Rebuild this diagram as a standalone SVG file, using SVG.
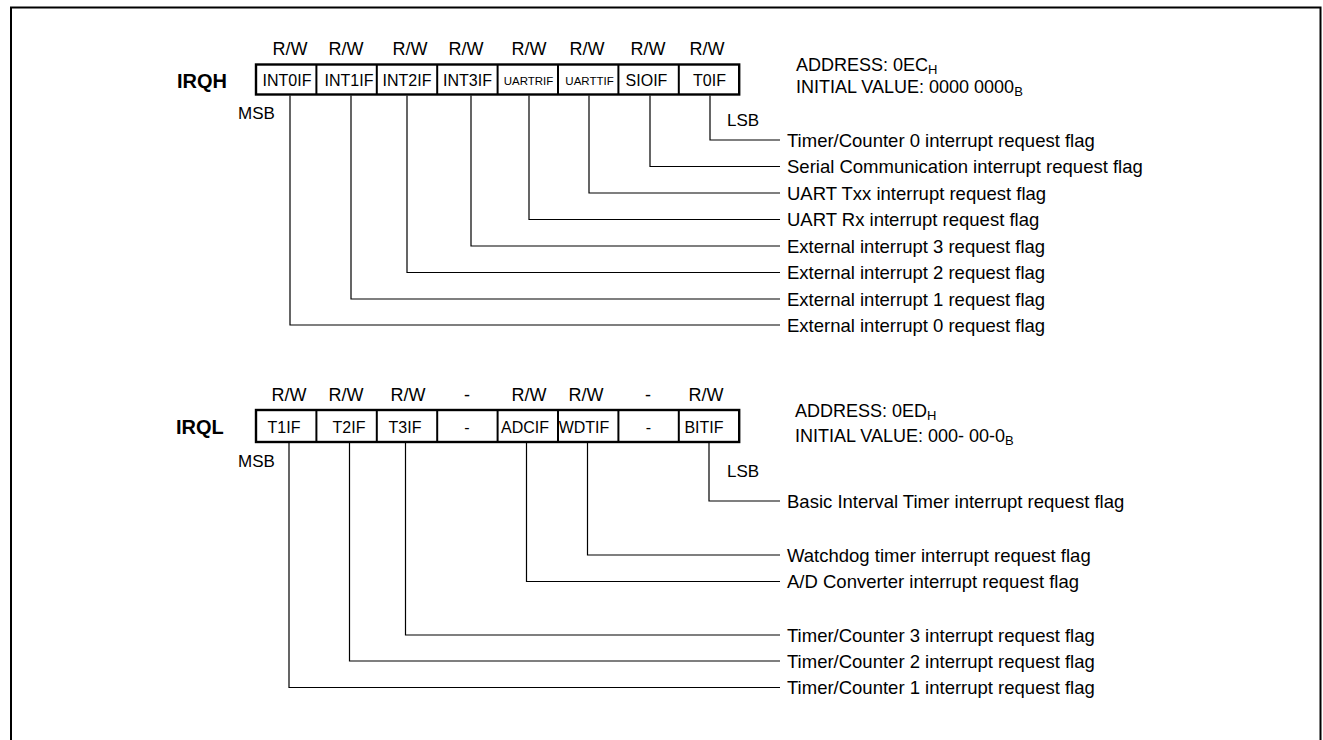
<svg xmlns="http://www.w3.org/2000/svg" width="1323" height="740" viewBox="0 0 1323 740">
<style>
text{font-family:"Liberation Sans",Arial,sans-serif;fill:#000}
.rw{font-size:18px;text-anchor:middle}
.cell{font-size:16px;text-anchor:middle}
.small{font-size:11.5px;text-anchor:middle}
.reg{font-size:20px;font-weight:bold}
.ml{font-size:17px}
.desc{font-size:18.5px}
.addr{font-size:18px}
.sub{font-size:13px}
.box{fill:#fff;stroke:#000;stroke-width:2.4}
.div{stroke:#000;stroke-width:2}
.lead{fill:none;stroke:#000;stroke-width:1.2}
</style>
<rect x="11" y="7.5" width="1309.5" height="800" fill="none" stroke="#000" stroke-width="2"/>

<g id="irqh">
<text class="reg" x="177" y="88">IRQH</text>
<g id="irqh-access">
<text class="rw" x="290" y="55">R/W</text>
<text class="rw" x="346" y="55">R/W</text>
<text class="rw" x="410" y="55">R/W</text>
<text class="rw" x="466" y="55">R/W</text>
<text class="rw" x="529" y="55">R/W</text>
<text class="rw" x="587" y="55">R/W</text>
<text class="rw" x="648" y="55">R/W</text>
<text class="rw" x="707" y="55">R/W</text>
</g>
<rect class="box" x="256" y="64.5" width="483.2" height="30"/>
<line class="div" x1="316.4" y1="64.5" x2="316.4" y2="94.5"/>
<line class="div" x1="376.8" y1="64.5" x2="376.8" y2="94.5"/>
<line class="div" x1="437.2" y1="64.5" x2="437.2" y2="94.5"/>
<line class="div" x1="497.6" y1="64.5" x2="497.6" y2="94.5"/>
<line class="div" x1="558" y1="64.5" x2="558" y2="94.5"/>
<line class="div" x1="618.4" y1="64.5" x2="618.4" y2="94.5"/>
<line class="div" x1="678.8" y1="64.5" x2="678.8" y2="94.5"/>
<text class="cell" x="287" y="86">INT0IF</text>
<text class="cell" x="349" y="86">INT1IF</text>
<text class="cell" x="407" y="86">INT2IF</text>
<text class="cell" x="467.5" y="86">INT3IF</text>
<text class="small" x="528.5" y="85">UARTRIF</text>
<text class="small" x="589.5" y="85">UARTTIF</text>
<text class="cell" x="646.5" y="86">SIOIF</text>
<text class="cell" x="709.5" y="86">T0IF</text>
<text class="ml" x="238" y="119">MSB</text>
<text class="ml" x="727" y="126">LSB</text>
<text class="addr" x="796" y="71">ADDRESS: 0EC<tspan class="sub" dy="3">H</tspan></text>
<text class="addr" x="796" y="93">INITIAL VALUE: 0000 0000<tspan class="sub" dy="3">B</tspan></text>
</g>

<g id="irqh-desc">
<text class="desc" x="787" y="146.5">Timer/Counter 0 interrupt request flag</text>
<text class="desc" x="787" y="173">Serial Communication interrupt request flag</text>
<text class="desc" x="787" y="199.5">UART Txx interrupt request flag</text>
<text class="desc" x="787" y="226">UART Rx interrupt request flag</text>
<text class="desc" x="787" y="252.5">External interrupt 3 request flag</text>
<text class="desc" x="787" y="279">External interrupt 2 request flag</text>
<text class="desc" x="787" y="305.5">External interrupt 1 request flag</text>
<text class="desc" x="787" y="331.5">External interrupt 0 request flag</text>
</g>

<g id="irql">
<text class="reg" x="176" y="434">IRQL</text>
<g id="irql-access">
<text class="rw" x="289" y="401">R/W</text>
<text class="rw" x="346" y="401">R/W</text>
<text class="rw" x="408" y="401">R/W</text>
<text class="rw" x="467" y="401">-</text>
<text class="rw" x="529" y="401">R/W</text>
<text class="rw" x="586" y="401">R/W</text>
<text class="rw" x="648" y="401">-</text>
<text class="rw" x="706" y="401">R/W</text>
</g>
<rect class="box" x="256" y="410" width="483.2" height="32"/>
<line class="div" x1="316.4" y1="410" x2="316.4" y2="442"/>
<line class="div" x1="376.8" y1="410" x2="376.8" y2="442"/>
<line class="div" x1="437.2" y1="410" x2="437.2" y2="442"/>
<line class="div" x1="497.6" y1="410" x2="497.6" y2="442"/>
<line class="div" x1="558" y1="410" x2="558" y2="442"/>
<line class="div" x1="618.4" y1="410" x2="618.4" y2="442"/>
<line class="div" x1="678.8" y1="410" x2="678.8" y2="442"/>
<text class="cell" x="284" y="433">T1IF</text>
<text class="cell" x="349" y="433">T2IF</text>
<text class="cell" x="405" y="433">T3IF</text>
<text class="cell" x="467" y="433">-</text>
<text class="cell" x="525" y="433">ADCIF</text>
<text class="cell" x="584" y="433">WDTIF</text>
<text class="cell" x="648.5" y="433">-</text>
<text class="cell" x="704" y="433">BITIF</text>
<text class="ml" x="238" y="467">MSB</text>
<text class="ml" x="727" y="477">LSB</text>
<text class="addr" x="795" y="417">ADDRESS: 0ED<tspan class="sub" dy="3">H</tspan></text>
<text class="addr" x="795" y="442">INITIAL VALUE: 000- 00-0<tspan class="sub" dy="3">B</tspan></text>
</g>

<g id="irql-desc">
<text class="desc" x="787" y="507.5">Basic Interval Timer interrupt request flag</text>
<text class="desc" x="787" y="561.5">Watchdog timer interrupt request flag</text>
<text class="desc" x="787" y="588">A/D Converter interrupt request flag</text>
<text class="desc" x="787" y="641.5">Timer/Counter 3 interrupt request flag</text>
<text class="desc" x="787" y="667.5">Timer/Counter 2 interrupt request flag</text>
<text class="desc" x="787" y="694">Timer/Counter 1 interrupt request flag</text>
</g>

<g id="connectors">
<path class="lead" d="M710 95.5V140H780"/>
<path class="lead" d="M650 95.5V166.5H780"/>
<path class="lead" d="M589 95.5V193H780"/>
<path class="lead" d="M529 95.5V219.5H780"/>
<path class="lead" d="M471 95.5V246H780"/>
<path class="lead" d="M407 95.5V272.5H780"/>
<path class="lead" d="M351 95.5V299H780"/>
<path class="lead" d="M290 95.5V325H780"/>
<path class="lead" d="M709 443V501H780"/>
<path class="lead" d="M587.5 443V555H780"/>
<path class="lead" d="M526.5 443V581.5H780"/>
<path class="lead" d="M405.5 443V635H780"/>
<path class="lead" d="M349.5 443V661H780"/>
<path class="lead" d="M289 443V687.5H780"/>
</g>
</svg>
